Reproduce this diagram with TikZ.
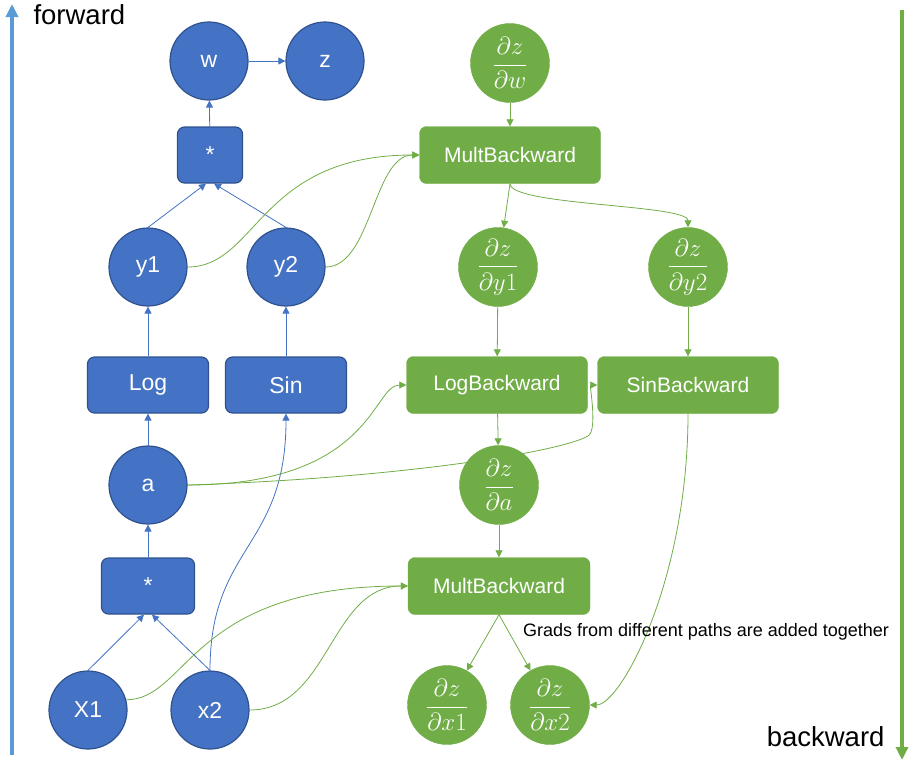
\documentclass[tikz,border=0pt]{standalone}
\usepackage{amsmath}
\usepackage{fontspec}
\setmainfont{Liberation Sans}
\usetikzlibrary{arrows.meta,backgrounds}
\definecolor{fblue}{HTML}{4472C4}
\definecolor{dblue}{HTML}{2F528F}
\definecolor{lblue}{HTML}{5B9BD5}
\definecolor{bgreen}{HTML}{70AD47}
\newcommand{\pz}[1]{\fontsize{24}{28}\selectfont$\dfrac{\partial z}{\partial #1}$}
\begin{document}
\begin{tikzpicture}[x=1pt,y=-1pt,
    fwd/.style={circle,fill=fblue,draw=dblue,line width=1.2pt,minimum size=78pt,inner sep=0pt,text=white,font=\fontsize{23}{27}\selectfont},
    fwdbox/.style={rectangle,rounded corners=7pt,fill=fblue,draw=dblue,line width=1.2pt,minimum height=56pt,text=white,font=\fontsize{23}{27}\selectfont},
    bwd/.style={circle,fill=bgreen,draw=bgreen,minimum size=79pt,inner sep=0pt,text=white},
    bwdbox/.style={rectangle,rounded corners=7pt,fill=bgreen,draw=bgreen,minimum width=181pt,minimum height=57pt,text=white,font=\fontsize{21}{25}\selectfont},
    fl/.style={draw=fblue,line width=0.8pt,-{Triangle[length=7pt,width=7pt]}},
    bl/.style={draw=bgreen,line width=0.8pt,-{Triangle[length=7pt,width=7pt]}}]
    \useasboundingbox (0,0) rectangle (917,769);
    \node[fwd] (w) at (209,61) {w};
    \node[fwd] (z) at (325,61) {z};
    \node[fwdbox,minimum width=65pt] (mul1) at (210,155) {*};
    \node[fwd] (y1) at (148,267) {y1};
    \node[fwd] (y2) at (286,267) {y2};
    \node[fwdbox,minimum width=121pt] (log) at (148,385) {Log};
    \node[fwdbox,minimum width=121pt] (sin) at (286,385) {Sin};
    \node[fwd] (a) at (148,485) {a};
    \node[fwdbox,minimum width=93pt] (mul2) at (148,586) {*};
    \node[fwd] (x1) at (88,710) {X1};
    \node[fwd] (x2) at (210,710) {x2};
    \node[bwd] (dw) at (510,63) {\pz{w}};
    \node[bwdbox] (mb1) at (510,155) {MultBackward};
    \node[bwd] (dy1) at (498,267) {\pz{y1}};
    \node[bwd] (dy2) at (688,267) {\pz{y2}};
    \node[bwdbox] (lb) at (497,385) {LogBackward};
    \node[bwdbox] (sb) at (688,385) {SinBackward};
    \node[bwd] (da) at (499,485) {\pz{a}};
    \node[bwdbox,minimum width=182pt] (mb2) at (499,586) {MultBackward};
    \node[bwd] (dx1) at (447,705) {\pz{x1}};
    \node[bwd] (dx2) at (550,705) {\pz{x2}};
    \node[anchor=west,font=\fontsize{27.5}{30}\selectfont] (fw) at (30,15) {forward};
    \node[anchor=east,font=\fontsize{27.5}{30}\selectfont] (bw) at (888,737) {backward};
    \node[font=\fontsize{18}{22}\selectfont] (note) at (706,632) {Grads from different paths are added together};
    \coordinate (fbot) at (12,755);
    \coordinate (ftop) at (12,4);
    \coordinate (btop) at (902,10);
    \coordinate (bbot) at (902,760);
    \draw[lblue,line width=4pt,-{Triangle[length=13pt,width=12pt]}] (fbot) -- (ftop);
    \draw[bgreen,line width=4pt,-{Triangle[length=13pt,width=12pt]}] (btop) -- (bbot);
    \begin{scope}[on background layer]
        \draw[fl] (w) -- (z);
        \draw[fl] (mul1) -- (w);
        \draw[fl] (y1.north) -- ([xshift=-4pt]mul1.south);
        \draw[fl] (y2.north) -- ([xshift=4pt]mul1.south);
        \draw[fl] (log) -- (y1);
        \draw[fl] (sin) -- (y2);
        \draw[fl] (a) -- (log);
        \draw[fl] (mul2) -- (a);
        \draw[fl] (x1.north) -- ([xshift=-4pt]mul2.south);
        \draw[fl] (x2.north) -- ([xshift=4pt]mul2.south);
        \draw[fl] (x2.north) .. controls +(0,-125) and +(0,135) .. (sin.south);
        \draw[bl] (dw) -- (mb1);
        \draw[bl] (mb1.south) -- (dy1);
        \draw[bl] (mb1.south) .. controls +(0,22) and +(0,-23) .. (dy2.north);
        \draw[bl] (y1.east) .. controls +(70,0) and +(-161,0) .. (mb1.west);
        \draw[bl] (y2.east) .. controls +(46,0) and +(-46,0) .. (mb1.west);
        \draw[bl] (dy1) -- (lb);
        \draw[bl] (dy2) -- (sb);
        \draw[bl] (a.east) .. controls +(185,0) and +(-34,0) .. (lb.west);
        \draw[bl] (a.east) .. controls +(213,-7) and +(-28,16) .. (588,436)
            .. controls +(10,-6) and +(-8,0) .. (sb.west);
        \draw[bl] (lb) -- (da);
        \draw[bl] (da) -- (mb2);
        \draw[bl] (x1.15) .. controls +(62,0) and +(-218,0) .. (mb2.west);
        \draw[bl] (x2.east) .. controls +(80,0) and +(-78,0) .. (mb2.west);
        \draw[bl] (mb2.south) -- (dx1);
        \draw[bl] (mb2.south) -- (dx2);
        \draw[bl] (sb.south) .. controls +(0,167) and +(31,0) .. (dx2.east);
    \end{scope}
\end{tikzpicture}
\end{document}
